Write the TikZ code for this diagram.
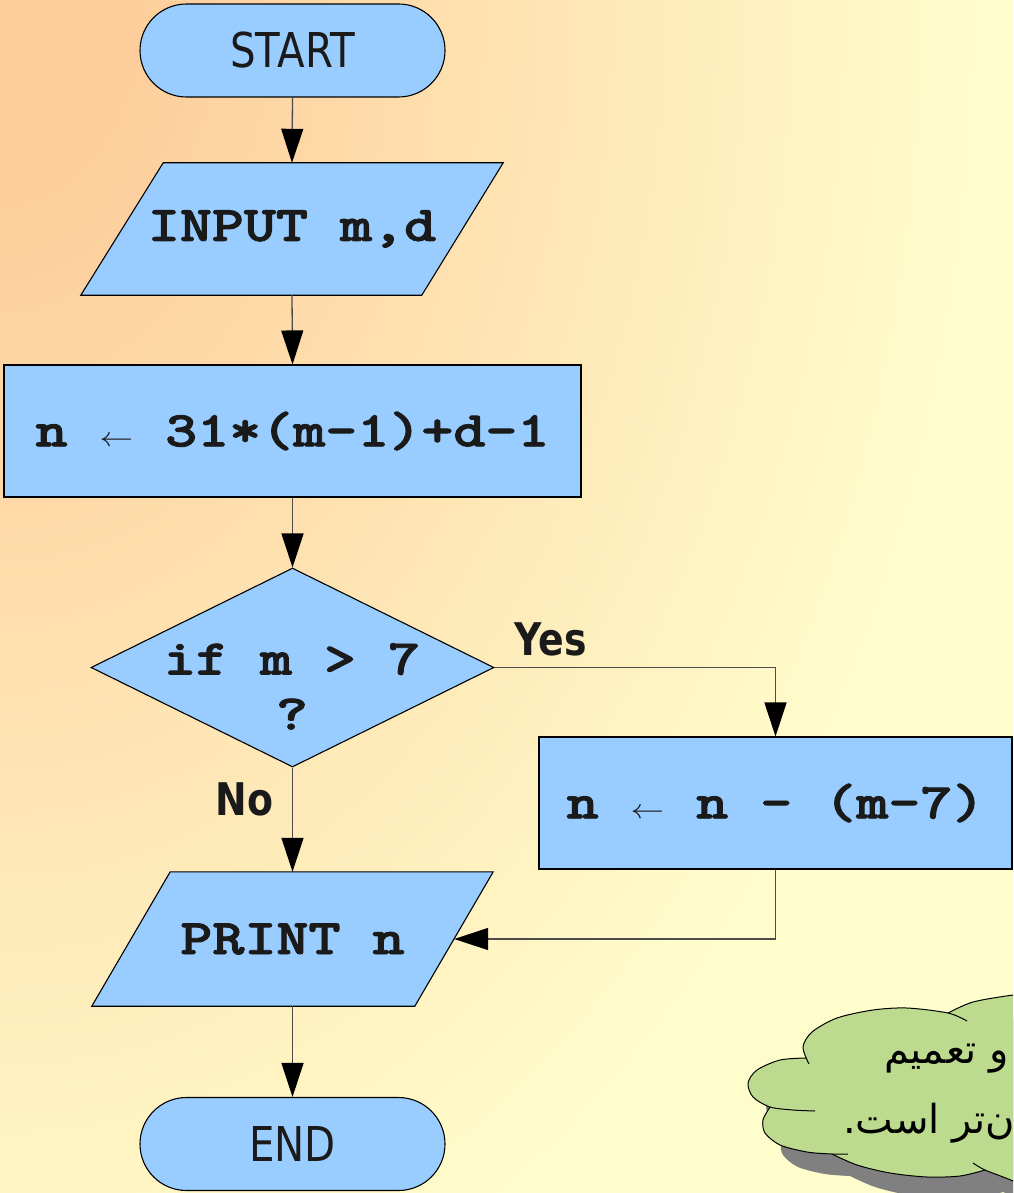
\documentclass[tikz,border=0pt]{standalone}
\usepackage{fontspec}
\usepackage{graphicx}
\usetikzlibrary{shapes.geometric,shapes.misc,arrows.meta}
\TeXXeTstate=1
\newfontfamily\sanscond[FakeStretch=0.84]{DejaVu Sans}
\newfontfamily\arabicfont[Script=Arabic]{DejaVu Sans}
\newfontfamily\cmono{lmmonolt10-bold.otf}[FakeBold=1.6]
\definecolor{boxblue}{RGB}{153,204,255}
\definecolor{bgpeach}{RGB}{253,205,155}
\definecolor{bgyellow}{RGB}{255,253,204}
\definecolor{cloudgreen}{RGB}{189,219,143}
\definecolor{shadowgray}{RGB}{128,128,128}
\definecolor{textblack}{RGB}{26,26,26}
\newcommand{\mt}[1]{\scalebox{1.22}[1]{#1}}
\newcommand{\arr}{{\fontsize{10}{10}\selectfont\raisebox{0.3pt}{\scalebox{2.75}{$\leftarrow$}}}}
\pgfdeclarelayer{bglayer}
\pgfdeclarelayer{shapelayer}
\pgfsetlayers{bglayer,shapelayer,main}
\pgfdeclareradialshading{bgrad}{\pgfpoint{0bp}{0bp}}{color(0bp)=(bgpeach); color(3bp)=(bgpeach); color(25bp)=(bgyellow); color(50bp)=(bgyellow)}
\tikzset{
  box/.style={draw=black, line width=1.1pt, fill=boxblue, inner sep=0pt, text=textblack},
  term/.style={box, rounded rectangle, minimum width=305pt, minimum height=93pt,
    font=\sanscond\fontsize{48}{50}\selectfont},
  ioarea/.style={rectangle, inner sep=0pt, text=textblack},
  proc/.style={box, rectangle},
  decision/.style={box, diamond},
  monotext/.style={font=\cmono\fontsize{50}{55}\selectfont, text=textblack, inner sep=0pt},
  conn/.style={line width=1.3pt, draw=black!70, -{Triangle[length=34pt,width=22pt,color=black]}},
  lbl/.style={font=\sanscond\bfseries\fontsize{45}{50}\selectfont, inner sep=0pt, text=textblack},
  cloudtext/.style={font=\arabicfont\fontsize{40}{42}\selectfont, inner sep=0pt, text=black},
  cloudline/.style={draw=black, line width=1pt},
}
\def\cloudpath{
  plot[smooth] coordinates {(1045,992) (1013,995) (973,1002) (948,1013)}
  -- plot[smooth] coordinates {(948,1013) (907,1008) (873,1010) (837,1018) (812,1032) (803,1047) (806,1058)}
  -- plot[smooth] coordinates {(806,1058) (780,1060) (757,1070) (748,1083) (753,1097) (770,1107)}
  -- plot[smooth] coordinates {(770,1107) (763,1120) (765,1133) (780,1145) (807,1152) (832,1154)}
  -- plot[smooth] coordinates {(832,1154) (857,1165) (890,1173) (927,1177) (960,1176) (985,1170)}
  -- plot[smooth] coordinates {(985,1170) (1013,1181) (1045,1197)}
  -- (1070,1240) -- (1070,980) -- cycle}
\begin{document}
\begin{tikzpicture}[x=1pt,y=-1pt]
\useasboundingbox (0,0) rectangle (1013,1193);
\begin{pgfonlayer}{bglayer}
\begin{scope}
  \clip (0,0) rectangle (1013,1193);
  \fill[bgyellow] (0,0) rectangle (1013,1193);
  \shade[shading=bgrad] (0,0) ellipse [x radius=980, y radius=1400];
\end{scope}
\end{pgfonlayer}

% cloud with shadow
\begin{scope}
  \clip (0,0) rectangle (1013,1193);
  \fill[shadowgray, shift={(18,22)}] \cloudpath;
  \fill[cloudgreen] \cloudpath;
  \draw[cloudline] plot[smooth] coordinates {(1045,992) (1013,995) (973,1002) (948,1013)};
  \draw[cloudline] plot[smooth] coordinates {(967,1021) (948,1013) (907,1008) (873,1010) (837,1018) (812,1032) (803,1047) (809,1064)};
  \draw[cloudline] plot[smooth] coordinates {(806,1058) (780,1060) (757,1070) (748,1083) (753,1097) (770,1107) (793,1110) (815,1111)};
  \draw[cloudline] plot[smooth] coordinates {(770,1107) (763,1120) (765,1133) (780,1145) (807,1152) (832,1154) (848,1154)};
  \draw[cloudline] plot[smooth] coordinates {(832,1154) (857,1165) (890,1173) (927,1177) (960,1176) (985,1170)};
  \draw[cloudline] plot[smooth] coordinates {(973,1163) (985,1170) (1013,1181) (1045,1197)};
  \node[cloudtext, anchor=base west] (c1) at (884,1063) {\beginR و تعمیم\endR};
  \node[cloudtext, anchor=base west] (c2) at (843,1133) {\beginR ن‌تر است.\endR};
\end{scope}

% flowchart nodes
\node[term] (start) at (292.5,50.5) {START};
\node[ioarea, minimum width=422pt, minimum height=132pt, monotext] (input) at (292,229) {\mt{INPUT m,d}};
\node[proc, minimum width=577pt, minimum height=132pt, monotext] (calc) at (292.5,431) {\mt{n \arr{} 31*(m-1)+d-1}};
\node[decision, minimum width=403pt, minimum height=199pt] (dec) at (292.5,667.5) {};
\node[monotext] (dectext) at (292,691) {\mt{\begin{tabular}{@{}c@{}}if m > 7\\?\end{tabular}}};
\node[proc, minimum width=473pt, minimum height=132pt, monotext] (nsub) at (775.5,803) {\mt{n \arr{} n - (m-7)}};
\node[ioarea, minimum width=401pt, minimum height=134pt, monotext] (print) at (292.5,939) {\mt{PRINT n}};
\node[term] (end) at (292.5,1144) {END};
\coordinate (printin) at ([xshift=-39pt]print.east);

\begin{pgfonlayer}{shapelayer}
  \filldraw[box] (input.south west) -- ++(341,0) -- (input.north east) -- ++(-340,0) -- cycle;
  \filldraw[box] (print.south west) -- ++(323,0) -- (print.north east) -- ++(-323,0) -- cycle;
\end{pgfonlayer}

\node[lbl, anchor=base] (yes) at (550.5,655) {Yes};
\node[lbl, anchor=base] (no) at (244.5,815) {No};

% connectors
\draw[conn] (start.south) -- (input.north);
\draw[conn] (input.south) -- (calc.north);
\draw[conn] (calc.south) -- (dec.north);
\draw[conn] (dec.east) -| (nsub.north);
\draw[conn] (dec.south) -- (print.north);
\draw[conn] (nsub.south) |- (printin);
\draw[conn] (print.south) -- (end.north);
\end{tikzpicture}
\end{document}
